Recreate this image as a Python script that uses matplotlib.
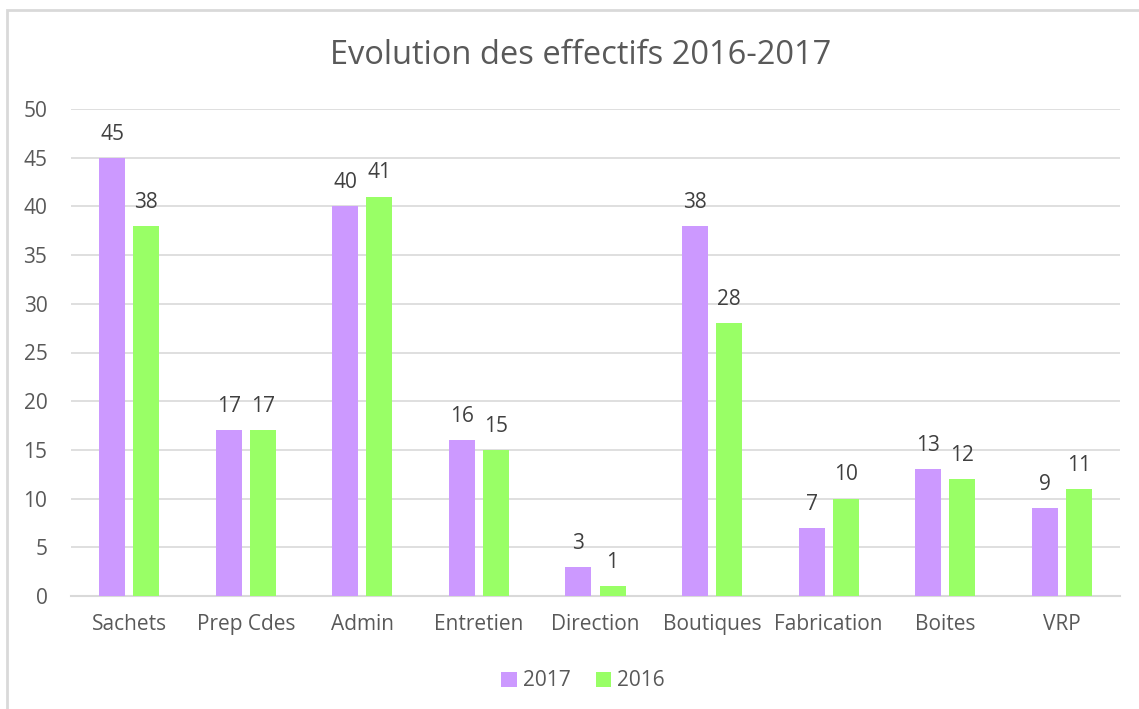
import matplotlib
matplotlib.use("Agg")
import matplotlib.pyplot as plt
from matplotlib.patches import Rectangle
import numpy as np

categories = ["Sachets", "Prep Cdes", "Admin", "Entretien", "Direction", "Boutiques", "Fabrication", "Boites", "VRP"]
v2017 = [45, 17, 40, 16, 3, 38, 7, 13, 9]
v2016 = [38, 17, 41, 15, 1, 28, 10, 12, 11]
yticks = list(range(0, 51, 5))

plt.rcParams['font.family'] = ['Open Sans', 'DejaVu Sans']
txt = '#595959'
c17 = '#CC99FF'
c16 = '#99FF66'

W, H = 1139, 709
fig = plt.figure(figsize=(W/100, H/100), dpi=100)
fig.patches.append(Rectangle((7/W, -0.1), 1.2, (H-10)/H + 0.1, transform=fig.transFigure,
                             fill=False, edgecolor='#D9D9D9', linewidth=2))

ax = fig.add_axes([71/W, 1-596/H, (1120-71)/W, (596-109)/H])
x = np.arange(len(categories))
bw = 0.223
off = 0.146
b1 = ax.bar(x - off, v2017, bw, color=c17, label='2017', zorder=3)
b2 = ax.bar(x + off, v2016, bw, color=c16, label='2016', zorder=3)
for bars in (b1, b2):
    for r in bars:
        ax.annotate(str(int(r.get_height())), (r.get_x() + r.get_width()/2, r.get_height()),
                    xytext=(0, 9.5), textcoords='offset points', ha='center', va='bottom',
                    fontsize=15, color='#404040')

ax.set_xlim(-0.5, len(categories) - 0.5)
ax.set_ylim(0, 50)
ax.set_yticks(yticks)
ax.set_xticks(x)
ax.set_xticklabels(categories)
ax.tick_params(axis='both', length=0, labelsize=15, labelcolor=txt)
ax.tick_params(axis='y', pad=17)
ax.tick_params(axis='x', pad=13)
ax.grid(axis='y', color='#D9D9D9', linewidth=1.2, zorder=0)
for s in ['top', 'right', 'left']:
    ax.spines[s].set_visible(False)
ax.spines['bottom'].set_color('#D9D9D9')
ax.spines['bottom'].set_linewidth(1.5)

fig.text(581/W, 1-55/H, 'Evolution des effectifs 2016-2017', ha='center', va='center',
         fontsize=23.5, color=txt)

leg = fig.legend(handles=[b1, b2], labels=['2017', '2016'], loc='center',
                 bbox_to_anchor=(583/W, 1-681/H), ncol=2, frameon=False,
                 fontsize=15, handlelength=0.75, handleheight=0.75, handletextpad=0.3,
                 columnspacing=1.2)
for t in leg.get_texts():
    t.set_color(txt)

fig.savefig('out.png', dpi=100)
